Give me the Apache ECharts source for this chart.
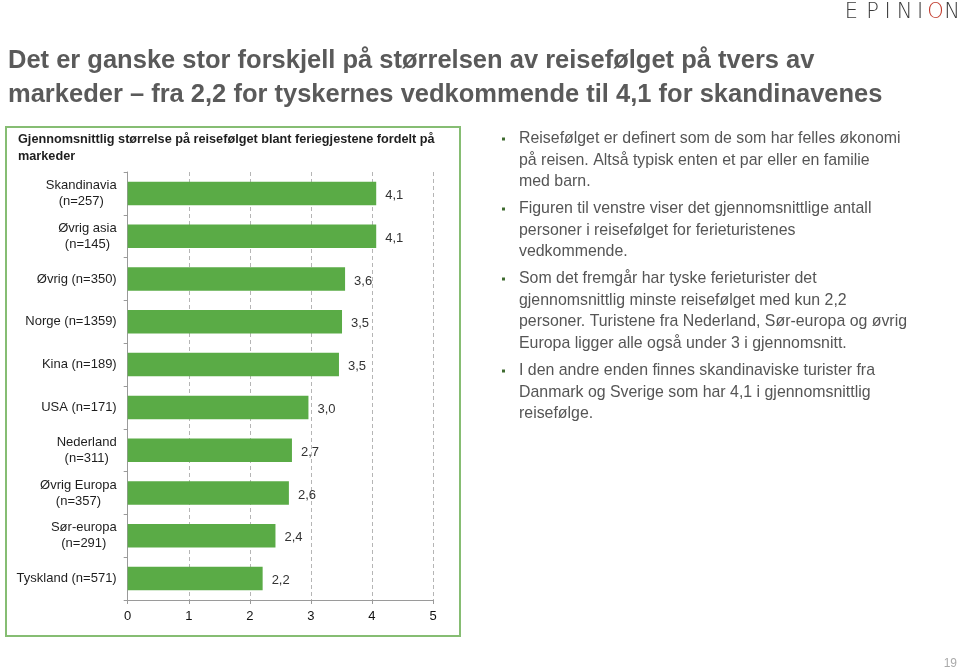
<!DOCTYPE html>
<html><head><meta charset="utf-8">
<script src="https://cdn.jsdelivr.net/npm/echarts@6/dist/echarts.min.js"></script>
<style>html,body{margin:0;padding:0;background:#fff}#c{width:960px;height:671px}</style>
</head><body><div id="c"></div>
<script>
const categories = ['Skandinavia\n(n=257)','Øvrig asia\n(n=145)','Øvrig (n=350)','Norge (n=1359)','Kina (n=189)','USA (n=171)','Nederland\n(n=311)','Øvrig Europa\n(n=357)','Sør-europa\n(n=291)','Tyskland (n=571)'];
const values = [4.07, 4.07, 3.56, 3.51, 3.46, 2.96, 2.69, 2.64, 2.42, 2.21];
const xTicks = [0, 1, 2, 3, 4, 5];
const titleLines = ['Det er ganske stor forskjell på størrelsen av reisefølget på tvers av','markeder – fra 2,2 for tyskernes vedkommende til 4,1 for skandinavenes'];
const boxTitle = ['Gjennomsnittlig størrelse på reisefølget blant feriegjestene fordelt på','markeder'];
const bullets = [
 ['Reisefølget er definert som de som har felles økonomi','på reisen. Altså typisk enten et par eller en familie','med barn.'],
 ['Figuren til venstre viser det gjennomsnittlige antall','personer i reisefølget for ferieturistenes','vedkommende.'],
 ['Som det fremgår har tyske ferieturister det','gjennomsnittlig minste reisefølget med kun 2,2','personer. Turistene fra Nederland, Sør-europa og øvrig','Europa ligger alle også under 3 i gjennomsnitt.'],
 ['I den andre enden finnes skandinaviske turister fra','Danmark og Sverige som har 4,1 i gjennomsnittlig','reisefølge.']
];
const logoLetters = ['E','P','I','N','I','O','N'];
const pageNo = '19';

const chart = echarts.init(document.getElementById('c'), null, {renderer:'canvas'});
const graphics = [];
const FONT = '"Liberation Sans", Arial, sans-serif';
// logo
const logoX = [851.5, 872.5, 887.5, 904.5, 920, 935.5, 952];
logoLetters.forEach((ch,i)=>graphics.push({type:'text', style:{x:logoX[i], y:13, text:ch, textAlign:'center', textVerticalAlign:'middle', font:'200 21px "DejaVu Sans", sans-serif', fill: i===5 ? '#c0392b' : '#3a3a3a'}}));
// main title
titleLines.forEach((t,i)=>graphics.push({type:'text', style:{x:8, y:61+i*34, text:t, textVerticalAlign:'middle', font:'bold 25.5px '+FONT, fill:'#5a5a5a'}}));
// box
graphics.push({type:'rect', shape:{x:6, y:127, width:454, height:509}, style:{fill:'none', stroke:'#86bd73', lineWidth:2}, z:-1});
boxTitle.forEach((t,i)=>graphics.push({type:'text', style:{x:18, y:139+i*17, text:t, textVerticalAlign:'middle', font:'bold 12.7px '+FONT, fill:'#1e1e1e'}}));
// bullets
const bulletStarts = [139, 209, 279, 371];
bullets.forEach((lines,bi)=>{
  graphics.push({type:'rect', shape:{x:502, y:bulletStarts[bi]-1.5, width:3, height:3}, style:{fill:'#3f6b30'}});
  lines.forEach((t,li)=>graphics.push({type:'text', style:{x:519, y:bulletStarts[bi]+li*21.5, text:t, textVerticalAlign:'middle', font:'15.9px '+FONT, fill:'#555'}}));
});
graphics.push({type:'text', style:{x:957, y:664, text:pageNo, textAlign:'right', textVerticalAlign:'middle', font:'12px '+FONT, fill:'#aaa'}});

chart.setOption({
  animation:false,
  grid:{left:127.7, right:527, top:172, bottom:71, containLabel:false},
  xAxis:{type:'value', min:0, max:5, interval:1,
    axisLine:{show:true, lineStyle:{color:'#9a9a9a'}},
    axisTick:{show:true, length:4, lineStyle:{color:'#9a9a9a'}},
    axisLabel:{color:'#111', fontSize:13, fontFamily:'Liberation Sans', margin:10, formatter:v=>xTicks.includes(v)?String(v):''},
    splitLine:{show:true, lineStyle:{color:'#b5b5b5', type:[4,3]}}},
  yAxis:{type:'category', inverse:true, data:categories,
    axisLine:{show:true, lineStyle:{color:'#9a9a9a'}},
    axisTick:{show:true, length:4, lineStyle:{color:'#9a9a9a'}},
    axisLabel:{margin:11, fontSize:13, fontFamily:'Liberation Sans', color:'#1e1e1e', lineHeight:16,
      formatter:v=>v.split('\n').map(s=>'{c|'+s+'}').join('\n'),
      rich:{c:{align:'center', fontSize:13, fontFamily:'Liberation Sans', color:'#1e1e1e', lineHeight:16}}}},
  series:[{type:'bar', data:values, barWidth:'55%', itemStyle:{color:'#5aab46'},
    label:{show:true, position:'right', distance:9, color:'#333', fontSize:13, fontFamily:'Liberation Sans', offset:[0,2],
      formatter:p=>p.value.toFixed(1).replace('.',',')}}],
  graphic:graphics
});
</script></body></html>
